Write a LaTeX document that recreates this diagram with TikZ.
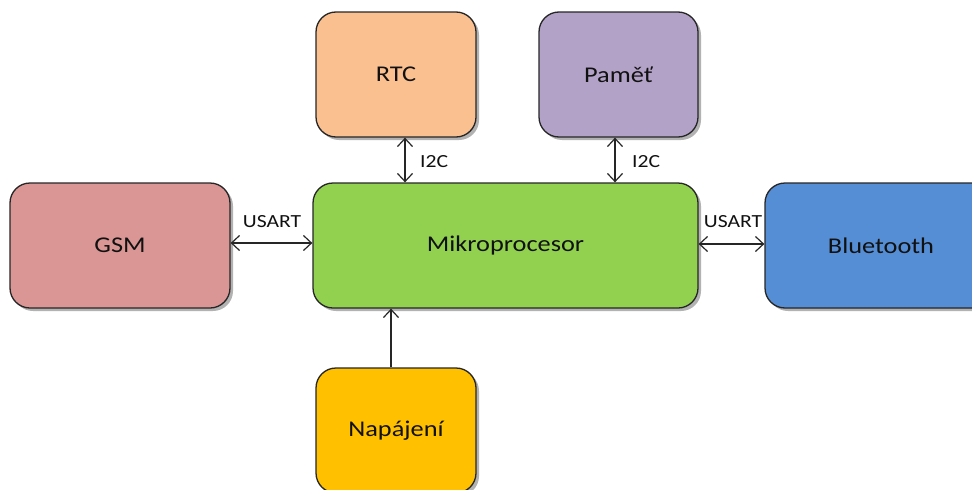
\documentclass[tikz,border=0pt]{standalone}
\usepackage{fontspec}
\setmainfont{Carlito}[FakeStretch=1.17]
\usetikzlibrary{arrows.meta,shadows}
\definecolor{rtcC}{HTML}{FAC090}
\definecolor{memC}{HTML}{B3A2C7}
\definecolor{mcuC}{HTML}{92D050}
\definecolor{gsmC}{HTML}{D99694}
\definecolor{btC}{HTML}{558ED5}
\definecolor{pwrC}{HTML}{FFC000}
\definecolor{lineC}{HTML}{262626}
\definecolor{txtC}{HTML}{111111}
\tikzset{
  block/.style={draw=lineC, line width=1.3pt, rounded corners=20pt, text=txtC,
    font=\fontsize{22.5}{25}\selectfont, inner sep=0pt,
    drop shadow={shadow xshift=3pt, shadow yshift=-3pt, opacity=0.3, fill=black}},
  link/.style={draw=lineC, line width=1.2pt,
    {Straight Barb[length=8pt,width=15pt,line width=1.2pt]}-{Straight Barb[length=8pt,width=15pt,line width=1.2pt]}},
  onelink/.style={draw=lineC, line width=1.2pt,
    -{Straight Barb[length=8pt,width=15pt,line width=1.2pt]}},
  lbl/.style={text=txtC, font=\fontsize{18.5}{21}\selectfont, inner sep=0pt}
}
\begin{document}
\begin{tikzpicture}[x=1pt,y=-1pt]
\useasboundingbox (0,0) rectangle (972,490);
\clip (0,0) rectangle (972,490);
\node[block, fill=rtcC, minimum width=160pt, minimum height=125pt] (rtc) at (396,74.5) {RTC};
\node[block, fill=memC, minimum width=159pt, minimum height=125pt] (mem) at (618.5,74.5) {Paměť};
\node[block, fill=mcuC, minimum width=385pt, minimum height=125pt] (mcu) at (505.5,245.5) {Mikroprocesor};
\node[block, fill=gsmC, minimum width=220pt, minimum height=125pt] (gsm) at (120,245.5) {GSM};
\node[block, fill=btC, minimum width=232pt, minimum height=125pt] (bt) at (881,245.5) {Bluetooth};
\node[block, fill=pwrC, minimum width=160pt, minimum height=125pt] (pwr) at (396,430.5) {Napájení};

\draw[link] ([xshift=9pt]rtc.south) -- ([xshift=9pt]rtc.south |- mcu.north);
\draw[link] ([xshift=-3.5pt]mem.south) -- ([xshift=-3.5pt]mem.south |- mcu.north);
\draw[link] ([yshift=2.5pt]gsm.east) -- ([yshift=2.5pt]gsm.east -| mcu.west);
\draw[link] ([yshift=1.5pt]mcu.east) -- ([yshift=1.5pt]mcu.east -| bt.west);
\draw[onelink] ([xshift=-5pt]pwr.north) -- ([xshift=-5pt]pwr.north |- mcu.south);

\node[lbl, anchor=west] (i2ca) at (420,162) {I2C};
\node[lbl, anchor=west] (i2cb) at (632,162) {I2C};
\node[lbl] (usa) at (272,222) {USART};
\node[lbl] (usb) at (733,222) {USART};
\end{tikzpicture}
\end{document}
